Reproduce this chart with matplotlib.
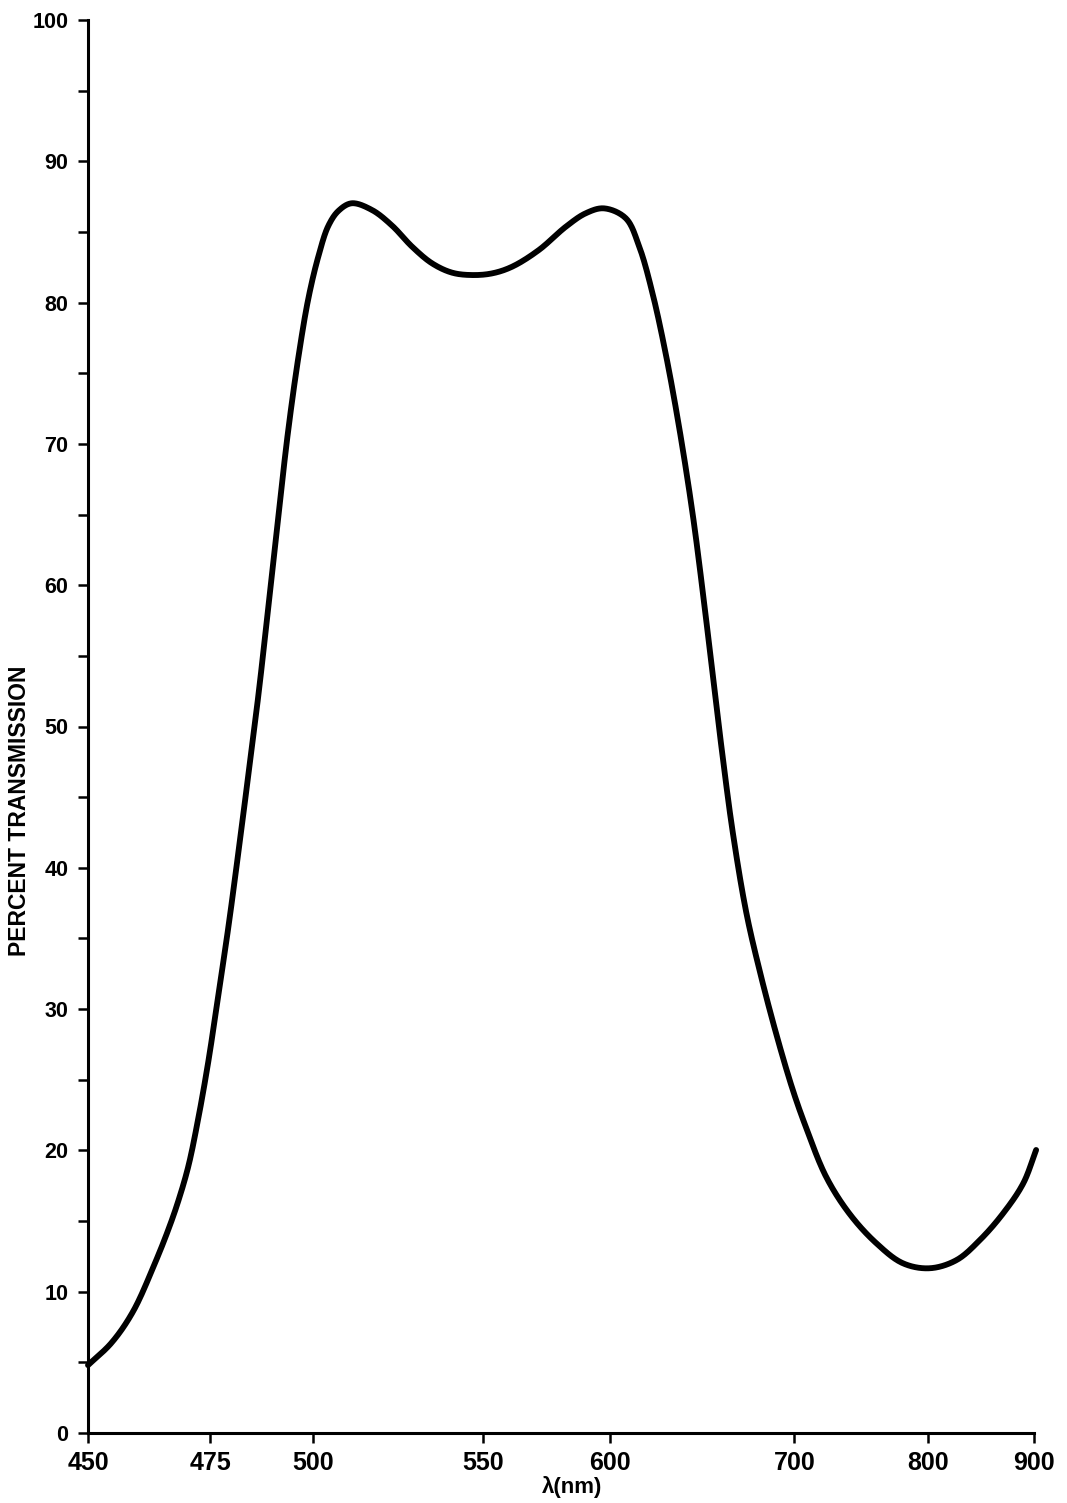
import numpy as np
import matplotlib
matplotlib.use("Agg")
import matplotlib.pyplot as plt

plt.rcParams['font.family'] = ['Liberation Sans', 'DejaVu Sans']
plt.rcParams['font.weight'] = 'bold'

# Wavelength (nm) and percent transmission along the curve
wavelength = [450.0, 454.8, 459.2, 463.7, 466.4, 468.4, 470.5, 472.5, 474.6, 476.9,
              479.4, 481.8, 484.2, 486.7, 489.1, 491.5, 493.9, 496.4, 498.8, 501.5,
              504.4, 507.4, 511.3, 517.3, 523.2, 529.1, 535.0, 540.9, 546.8, 553.7,
              561.5, 572.0, 582.6, 590.4, 597.6, 608.5, 615.8, 623.0, 630.3, 637.5,
              644.7, 650.2, 655.6, 661.0, 666.5, 673.8, 681.0, 690.1, 699.1, 708.8,
              723.8, 741.4, 761.4, 781.4, 801.9, 827.1, 849.1, 871.0, 889.9, 902.0]
transmission = [4.80, 6.38, 8.59, 12.03, 14.37, 16.35, 18.85, 22.17, 26.28, 30.88,
                35.83, 41.07, 46.52, 52.32, 58.55, 64.92, 71.00, 76.24, 80.35, 83.32,
                85.44, 86.50, 87.03, 86.55, 85.45, 83.96, 82.78, 82.12, 81.95, 82.07,
                82.54, 83.72, 85.37, 86.32, 86.67, 85.97, 83.96, 80.66, 76.29, 71.13,
                65.11, 59.59, 53.72, 47.91, 42.53, 36.87, 32.77, 28.24, 24.27, 21.59,
                18.12, 15.50, 13.43, 12.01, 11.66, 12.24, 13.66, 15.55, 17.67, 20.03]

# Labelled wavelengths on the (non-uniform) wavelength axis and their relative spacing
x_ticks = [450, 475, 500, 550, 600, 700, 800, 900]
x_tick_pos = [0.0, 122.0, 225.0, 394.0, 521.0, 705.0, 838.0, 944.0]
y_ticks = list(range(0, 101, 10))
y_minor = list(range(5, 100, 10))


def fwd(v):
    v = np.asarray(v, dtype=float)
    lo, hi = x_ticks[0], x_ticks[-1]
    out = np.interp(v, x_ticks, x_tick_pos)
    s0 = (x_tick_pos[1] - x_tick_pos[0]) / (x_ticks[1] - x_ticks[0])
    s1 = (x_tick_pos[-1] - x_tick_pos[-2]) / (x_ticks[-1] - x_ticks[-2])
    out = np.where(v < lo, x_tick_pos[0] + (v - lo) * s0, out)
    out = np.where(v > hi, x_tick_pos[-1] + (v - hi) * s1, out)
    return out


def inv(p):
    p = np.asarray(p, dtype=float)
    lo, hi = x_tick_pos[0], x_tick_pos[-1]
    out = np.interp(p, x_tick_pos, x_ticks)
    s0 = (x_ticks[1] - x_ticks[0]) / (x_tick_pos[1] - x_tick_pos[0])
    s1 = (x_ticks[-1] - x_ticks[-2]) / (x_tick_pos[-1] - x_tick_pos[-2])
    out = np.where(p < lo, x_ticks[0] + (p - lo) * s0, out)
    out = np.where(p > hi, x_ticks[-1] + (p - hi) * s1, out)
    return out


def catmull_rom(P, n=24, alpha=0.5):
    """Centripetal Catmull-Rom curve through the rows of P."""
    P = np.vstack([2 * P[0] - P[1], P, 2 * P[-1] - P[-2]])
    pieces = []
    for i in range(len(P) - 3):
        p0, p1, p2, p3 = P[i:i + 4]
        t0 = 0.0
        t1 = t0 + np.linalg.norm(p1 - p0) ** alpha
        t2 = t1 + np.linalg.norm(p2 - p1) ** alpha
        t3 = t2 + np.linalg.norm(p3 - p2) ** alpha
        t = np.linspace(t1, t2, n, endpoint=False)[:, None]
        a1 = (t1 - t) / (t1 - t0) * p0 + (t - t0) / (t1 - t0) * p1
        a2 = (t2 - t) / (t2 - t1) * p1 + (t - t1) / (t2 - t1) * p2
        a3 = (t3 - t) / (t3 - t2) * p2 + (t - t2) / (t3 - t2) * p3
        b1 = (t2 - t) / (t2 - t0) * a1 + (t - t0) / (t2 - t0) * a2
        b2 = (t3 - t) / (t3 - t1) * a2 + (t - t1) / (t3 - t1) * a3
        pieces.append((t2 - t) / (t2 - t1) * b1 + (t - t1) / (t2 - t1) * b2)
    pieces.append(P[-2][None, :])
    return np.vstack(pieces)


fig = plt.figure(figsize=(10.67, 15.03), dpi=100)
W, H = 1067, 1503
ax_left, ax_right, ax_top, ax_bot = 88, 1034, 20, 1433
ax = fig.add_axes([ax_left / W, 1 - ax_bot / H, (ax_right - ax_left) / W, (ax_bot - ax_top) / H])

ax.set_xscale('function', functions=(fwd, inv))

# smooth the curve in scaled space so it renders without corners
y_px = (ax_bot - ax_top) / 100.0
pts = np.column_stack([fwd(wavelength), np.asarray(transmission) * y_px])
smooth = catmull_rom(pts)
ax.plot(inv(smooth[:, 0]), smooth[:, 1] / y_px, color='black', lw=4.2,
        solid_capstyle='round', solid_joinstyle='round', clip_on=False)

ax.set_xlim(450, 900)
ax.set_ylim(0, 100)

for s in ['top', 'right']:
    ax.spines[s].set_visible(False)
for s in ['left', 'bottom']:
    ax.spines[s].set_linewidth(2.2)

ax.set_xticks(x_ticks)
ax.set_xticklabels([str(t) for t in x_ticks], fontsize=18, fontweight='bold')
ax.xaxis.set_minor_locator(matplotlib.ticker.NullLocator())
ax.set_yticks(y_ticks)
ax.set_yticklabels([str(t) for t in y_ticks], fontsize=15.5, fontweight='bold')
ax.set_yticks(y_minor, minor=True)
ax.tick_params(axis='both', which='both', direction='out', width=1.8, color='black')
ax.tick_params(axis='x', which='major', length=7, pad=6)
ax.tick_params(axis='y', which='major', length=7, pad=7)
ax.tick_params(axis='y', which='minor', length=7)

fig.text(572 / W, 1 - 1487 / H, 'λ(nm)', ha='center', va='center', fontsize=16,
         fontweight='bold')
fig.text(20 / W, 1 - 811 / H, 'PERCENT TRANSMISSION', ha='center', va='center',
         rotation=90, fontsize=16.5, fontweight='bold')

fig.savefig('out.png', dpi=100, facecolor='white')
